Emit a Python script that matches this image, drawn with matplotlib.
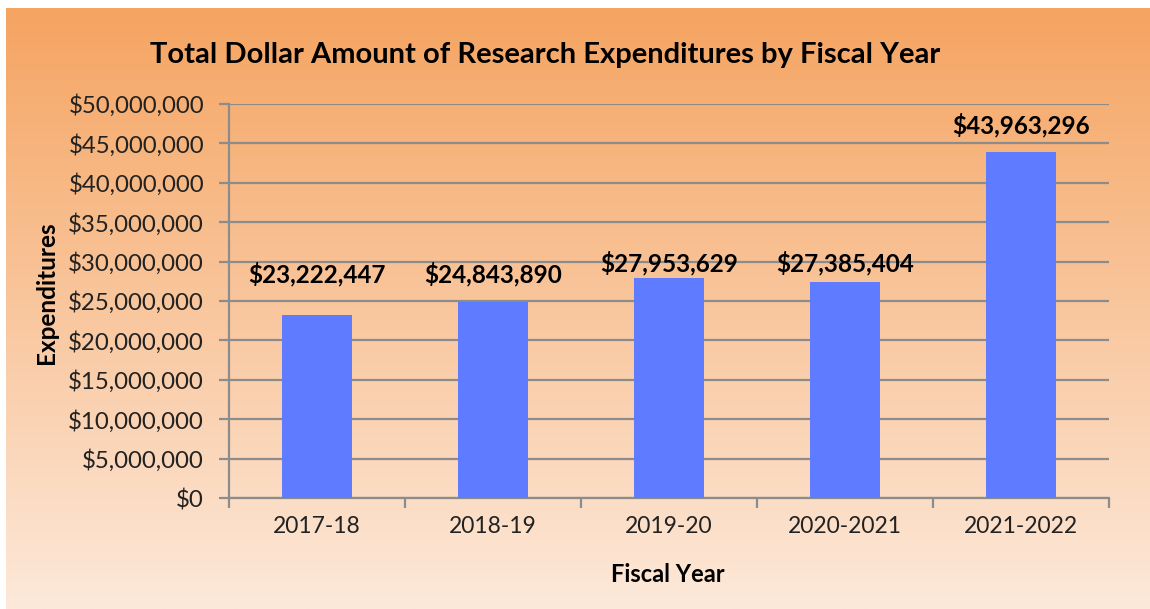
import numpy as np
import matplotlib
matplotlib.use("Agg")
import matplotlib.pyplot as plt
from matplotlib.colors import LinearSegmentedColormap
from matplotlib.ticker import FuncFormatter, MultipleLocator

plt.rcParams['font.family'] = ['Lato', 'DejaVu Sans']

# ---- data ----
fiscal_years = ["2017-18", "2018-19", "2019-20", "2020-2021", "2021-2022"]
expenditures = [23222447, 24843890, 27953629, 27385404, 43963296]

# label vertical centres (layout, data units) as placed in the reference
label_centres = [28.4e6, 28.4e6, 29.8e6, 29.8e6, 47.3e6]

W, H = 1150, 609
fig = plt.figure(figsize=(W / 100, H / 100), dpi=100, facecolor="white")

# gradient background panel
bg = fig.add_axes([6 / W, 0, 1 - 6 / W, 1 - 8 / H])
bg.set_axis_off()
cmap = LinearSegmentedColormap.from_list("bgc", ["#F5A461", "#FDE9DA"])
grad = np.linspace(0, 1, 256).reshape(-1, 1)
bg.imshow(grad, aspect="auto", cmap=cmap, extent=[0, 1, 0, 1], origin="upper")

ax = fig.add_axes([229 / W, 1 - 498 / H, (1109 - 229) / W, (498 - 104) / H])
ax.patch.set_alpha(0)

x = np.arange(len(fiscal_years))
ax.bar(x, expenditures, width=0.4, color="#5F7BFF", zorder=3)

ax.set_xlim(-0.5, len(fiscal_years) - 0.5)
ax.set_ylim(0, 50e6)
ax.yaxis.set_major_locator(MultipleLocator(5e6))
ax.yaxis.set_major_formatter(FuncFormatter(lambda v, p: f"${v:,.0f}"))

grid_c = "#8C8C8C"
ax.grid(axis="y", color=grid_c, linewidth=1.6, zorder=1)
ax.set_axisbelow(True)
for s in ["top", "right"]:
    ax.spines[s].set_visible(False)
for s in ["left", "bottom"]:
    ax.spines[s].set_color(grid_c)
    ax.spines[s].set_linewidth(1.6)

ax.set_xticks(x)
ax.set_xticklabels(fiscal_years)
ax.set_xticks(np.arange(-0.5, len(fiscal_years)), minor=True)
ax.tick_params(axis="x", which="major", length=0, pad=13, labelsize=16.5, labelcolor="#222222")
ax.tick_params(axis="x", which="minor", length=7, width=1.6, color=grid_c, direction="out")
ax.tick_params(axis="y", length=7, width=1.6, color=grid_c, pad=11, labelsize=17.3, labelcolor="#222222")

for xi, v, ly in zip(x, expenditures, label_centres):
    ax.text(xi, ly, f"${v:,.0f}", ha="center", va="center", fontsize=17.5,
            fontweight="bold", color="black", zorder=4)

fig.text(545 / W, 1 - 55 / H, "Total Dollar Amount of Research Expenditures by Fiscal Year",
         ha="center", va="center", fontsize=21, fontweight="bold", color="black")
fig.text(46 / W, 1 - 293 / H, "Expenditures", rotation=90, ha="center", va="center",
         fontsize=17.5, fontweight="bold", color="black")
fig.text(668 / W, 1 - 574 / H, "Fiscal Year", ha="center", va="center",
         fontsize=17, fontweight="bold", color="black")

fig.savefig("out.png", dpi=100, facecolor="white")
